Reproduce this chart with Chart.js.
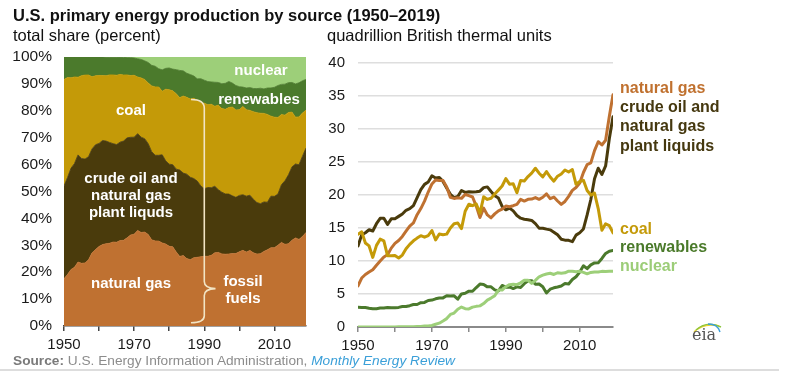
<!DOCTYPE html>
<html><head><meta charset="utf-8">
<script src="https://cdn.jsdelivr.net/npm/chart.js@4/dist/chart.umd.min.js"></script>
<style>
html,body{margin:0;padding:0;background:#fff;}
#wrap{position:relative;width:796px;height:382px;overflow:hidden;font-family:"Liberation Sans",Arial,sans-serif;}
.t{position:absolute;white-space:nowrap;line-height:1;}
.c{transform:translateX(-50%);}
.w{color:#fff;font-weight:bold;font-size:15px;}
.r{font-weight:bold;font-size:16px;left:620px;}
canvas{position:absolute;top:0;}
</style></head><body>
<div id="wrap">
<canvas id="left" width="320" height="382" style="left:0;width:320px;height:382px"></canvas>
<canvas id="right" width="476" height="382" style="left:320px;width:476px;height:382px"></canvas>

<div class="t" style="left:13px;top:7px;font-size:16.5px;font-weight:bold;color:#111">U.S. primary energy production by source (1950–2019)</div>
<div class="t" style="left:13px;top:26.5px;font-size:16.5px;color:#111">total share (percent)</div>
<div class="t" style="left:327px;top:26.5px;font-size:16.5px;color:#111">quadrillion British thermal units</div>

<div class="t w c" style="left:261px;top:62px">nuclear</div>
<div class="t w c" style="left:259px;top:91px">renewables</div>
<div class="t w c" style="left:131px;top:102px">coal</div>
<div class="t w c" style="left:131px;top:170px">crude oil and</div>
<div class="t w c" style="left:131px;top:187px">natural gas</div>
<div class="t w c" style="left:131px;top:204px">plant liquds</div>
<div class="t w c" style="left:131px;top:275px">natural gas</div>
<div class="t w c" style="left:243px;top:273px">fossil</div>
<div class="t w c" style="left:243px;top:290px">fuels</div>

<div class="t r" style="top:80px;color:#C0712F">natural gas</div>
<div class="t r" style="top:99px;color:#45380F">crude oil and</div>
<div class="t r" style="top:118px;color:#45380F">natural gas</div>
<div class="t r" style="top:138px;color:#45380F">plant liquids</div>
<div class="t r" style="top:221px;color:#C49A09">coal</div>
<div class="t r" style="top:239px;color:#4A7A2A">renewables</div>
<div class="t r" style="top:258px;color:#9CCD78">nuclear</div>

<div class="t" style="left:13px;top:354.4px;font-size:13.7px;color:#8c8c8c"><b style="color:#7a7a7a">Source:</b> U.S. Energy Information Administration, <i style="color:#3a9fd8">Monthly Energy Review</i></div>
<div style="position:absolute;left:0;top:369px;width:779px;height:2px;background:#dddddd"></div>

<svg style="position:absolute;left:688px;top:318px" width="40" height="26" viewBox="0 0 40 26">
<path d="M6 14 Q16 4 31 8" stroke="#e8d230" stroke-width="1.6" fill="none"/>
<path d="M8 12 Q19 2 33 9" stroke="#8cc63f" stroke-width="1.4" fill="none"/>
<path d="M20 6 Q30 6 32 14" stroke="#3a9fd8" stroke-width="1.4" fill="none"/>
</svg>
<div class="t" style="left:692px;top:327px;font-family:'DejaVu Serif',serif;font-size:16px;color:#555">eia</div>
</div>

<script>
const years = Array.from({length:70},(_,i)=>1950+i);
const xTickYears = [1950,1960,1970,1980,1990,2000,2010];
const xTickLabels = [1950,1970,1990,2010];

const naturalGas = [
 6.23,7.42,7.96,8.34,8.68,9.35,10.00,10.61,10.94,11.95,
 12.66,13.11,13.72,14.51,15.30,15.78,17.01,17.94,19.07,20.45,
 21.67,22.28,22.21,22.19,21.21,19.64,19.48,19.57,19.49,20.08,
 19.91,19.70,18.32,16.59,18.01,16.98,16.54,17.14,17.60,17.85,
 18.33,18.23,18.38,18.58,19.35,19.08,19.34,19.39,19.61,19.34,
 19.66,20.17,19.44,19.69,19.09,18.57,19.02,19.79,20.70,21.14,
 21.81,23.41,24.61,24.86,26.72,28.07,27.58,28.29,31.88,35.19];
const crudeOilNGPL = [
 12.27,13.96,14.28,14.73,14.54,15.65,16.46,16.49,15.55,16.39,
 16.40,16.76,17.12,17.68,17.93,18.40,19.59,20.80,21.61,21.96,
 22.91,22.58,22.64,22.06,21.05,20.10,19.59,19.78,20.68,20.39,
 20.50,20.45,20.50,20.58,21.12,21.23,20.53,19.89,19.54,18.28,
 17.75,18.01,17.59,16.90,16.49,16.33,16.25,16.15,15.66,14.98,
 14.97,14.83,14.72,14.37,13.97,13.30,13.16,13.13,12.93,13.92,
 14.28,14.85,16.98,19.32,22.46,24.05,23.12,24.40,28.52,31.86];
const coal = [
 14.06,14.42,12.73,12.28,10.54,12.37,13.31,13.06,10.78,10.78,
 10.82,10.45,10.90,11.85,12.52,13.06,13.47,13.83,13.61,13.86,
 14.61,13.19,14.09,13.99,14.07,14.99,15.65,15.76,14.91,17.54,
 18.60,18.38,18.64,17.25,19.72,19.33,19.51,20.14,20.74,21.36,
 22.49,21.64,21.69,20.34,22.20,22.13,22.79,23.31,24.05,23.30,
 22.74,23.55,22.73,22.09,22.85,23.19,23.79,23.49,23.85,21.62,
 22.04,22.22,20.68,19.99,20.29,17.95,14.67,15.63,15.36,14.26];
const renewables = [
 2.98,2.96,2.94,2.83,2.75,2.78,2.87,2.88,2.96,2.93,
 2.93,2.97,3.10,3.10,3.23,3.40,3.41,3.68,3.73,4.02,
 4.08,4.27,4.38,4.41,4.74,4.69,4.73,4.21,5.01,5.12,
 5.43,5.41,5.98,6.50,6.44,6.08,6.08,5.63,5.47,6.29,
 6.04,6.07,5.82,6.08,5.99,6.56,7.01,7.02,6.49,6.52,
 6.10,5.16,5.73,5.94,6.07,6.22,6.58,6.51,7.19,7.62,
 8.32,9.27,8.85,9.42,9.71,9.72,10.39,11.15,11.49,11.59];
const nuclear = [
 0,0,0,0,0,0,0,0,0.002,0.002,
 0.006,0.02,0.026,0.038,0.04,0.043,0.064,0.088,0.142,0.154,
 0.24,0.41,0.58,0.91,1.27,1.90,2.11,2.70,3.02,2.78,
 2.74,3.01,3.13,3.20,3.55,4.08,4.38,4.75,5.59,5.60,
 6.10,6.42,6.48,6.41,6.69,7.08,7.09,6.60,7.07,7.61,
 7.86,8.03,8.14,7.96,8.22,8.16,8.21,8.46,8.43,8.36,
 8.43,8.27,8.06,8.27,8.34,8.34,8.43,8.42,8.44,8.45];

const series = [
 {name:'natural gas', data:naturalGas, color:'#BF7131'},
 {name:'crude oil and natural gas plant liquids', data:crudeOilNGPL, color:'#4A3B0C'},
 {name:'coal', data:coal, color:'#C49A08'},
 {name:'renewables', data:renewables, color:'#4B7A2C'},
 {name:'nuclear', data:nuclear, color:'#9DCF79'}
];

Chart.defaults.font.family = '"Liberation Sans", Arial, sans-serif';
Chart.defaults.color = '#1a1a1a';
Chart.defaults.animation = false;

const totals = years.map((_,i)=>series.reduce((s,d)=>s+d.data[i],0));

function xAxis(color, bw){
  return {
    type:'linear', min:1950, max:2019,
    afterBuildTicks: s => { s.ticks = xTickYears.map(v=>({value:v})); },
    afterFit: s => { s.height = 30; },
    ticks:{ autoSkip:false, maxRotation:0, padding:5, font:{size:15},
      callback: v => xTickLabels.includes(v) ? String(v) : '' },
    grid:{ drawOnChartArea:false, drawTicks:true, tickLength:5, color:color, lineWidth:1.5 },
    border:{ display:true, color:color, width:bw }
  };
}

const bracePlugin = {
  id:'brace',
  afterDatasetsDraw(chart){
    const {ctx, scales:{x,y}} = chart;
    const X = v=>x.getPixelForValue(v), Y = v=>y.getPixelForValue(v);
    ctx.save();
    ctx.strokeStyle = '#f2e4c4'; ctx.lineWidth = 1.6;
    ctx.beginPath();
    ctx.moveTo(X(1986.2), Y(84.2));
    ctx.quadraticCurveTo(X(1990), Y(84.2), X(1990), Y(81));
    ctx.lineTo(X(1990), Y(16.5));
    ctx.quadraticCurveTo(X(1990), Y(14), X(1993.2), Y(13.9));
    ctx.quadraticCurveTo(X(1990), Y(13.8), X(1990), Y(11.3));
    ctx.lineTo(X(1990), Y(3.8));
    ctx.quadraticCurveTo(X(1990), Y(1.2), X(1986.2), Y(1.2));
    ctx.stroke();
    ctx.restore();
  }
};

new Chart(document.getElementById('left'), {
  type:'line',
  data:{ datasets: series.map((s,k)=>({
    label:s.name,
    data: years.map((yr,i)=>({x:yr, y: s.data[i]/totals[i]*100})),
    backgroundColor:s.color, borderColor:s.color, borderWidth:0.8,
    pointRadius:0, tension:0, fill: k===0 ? 'origin' : '-1'
  }))},
  options:{
    responsive:false, devicePixelRatio:1,
    layout:{ padding:{left:0, right:14, top:57, bottom:26} },
    plugins:{ legend:{display:false}, tooltip:{enabled:false} },
    scales:{
      x: xAxis('#444', 1.5),
      y:{ stacked:true, min:0, max:100,
        afterFit: s => { s.width = 64; },
        ticks:{ stepSize:10, padding:12, font:{size:15.5}, callback:v=>v+'%' },
        grid:{ display:false, drawTicks:false },
        border:{ display:false } }
    }
  },
  plugins:[bracePlugin]
});

const lineOrder = [4,3,2,0,1];
new Chart(document.getElementById('right'), {
  type:'line',
  data:{ datasets: lineOrder.map(k=>({
    label:series[k].name,
    data: years.map((yr,i)=>({x:yr, y:series[k].data[i]})),
    borderColor:series[k].color, backgroundColor:series[k].color,
    borderWidth:3, pointRadius:0, tension:0, fill:false,
    borderJoinStyle:'round', borderCapStyle:'round'
  }))},
  options:{
    responsive:false, devicePixelRatio:1,
    layout:{ padding:{left:0, right:183, top:63, bottom:25} },
    plugins:{ legend:{display:false}, tooltip:{enabled:false} },
    scales:{
      x: xAxis('#8a8a8a', 2),
      y:{ min:0, max:40,
        afterFit: s => { s.width = 38; },
        ticks:{ stepSize:5, padding:13, font:{size:15} },
        grid:{ color:'#dedede', lineWidth:1.5, drawTicks:false },
        border:{ display:false } }
    }
  }
});
</script>
</body></html>
